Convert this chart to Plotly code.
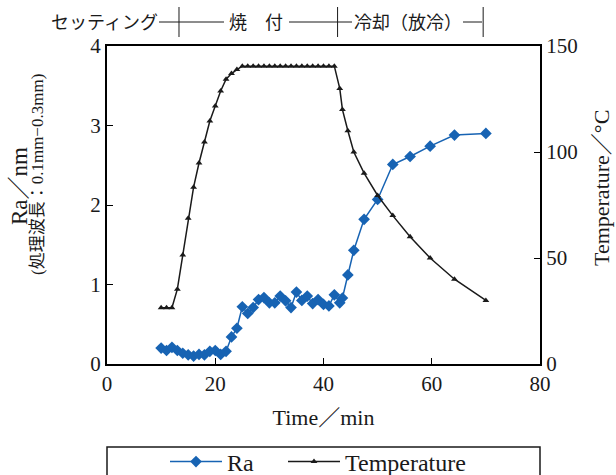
import plotly.graph_objects as go

# Sampling times (min)
time_min = [10, 11, 12, 13, 14, 15, 16, 17, 18, 19, 20, 21, 22, 23, 24, 25, 26, 27,
            28, 29, 30, 31, 32, 33, 34, 35, 36, 37, 38, 39, 40, 41, 42,
            43, 43.5, 44.5, 45.6, 47.5, 50, 52.8, 56, 59.7, 64.2, 70]

# Surface roughness Ra (nm), wavelength band 0.1mm-0.3mm
ra_nm = [0.20, 0.17, 0.21, 0.17, 0.135, 0.115, 0.10, 0.12, 0.115, 0.16, 0.17, 0.12,
         0.16, 0.34, 0.45, 0.72, 0.635, 0.71, 0.81, 0.835, 0.77, 0.77, 0.855, 0.795,
         0.71, 0.905, 0.80, 0.855, 0.76, 0.81, 0.75, 0.73, 0.87,
         0.77, 0.83, 1.12, 1.43, 1.82, 2.07, 2.51, 2.61, 2.74, 2.88, 2.90]

# Temperature (deg C)
temp_c = [26.5, 26.5, 26.5, 35.3, 51.4, 68.7, 83.4, 94.8, 104.7, 114.6, 121.7, 128.8,
          134.3, 137, 138.9, 140.5, 140.5, 140.5, 140.5, 140.5, 140.5, 140.5, 140.5,
          140.5, 140.5, 140.5, 140.5, 140.5, 140.5, 140.5, 140.5, 140.5, 140.5,
          130, 120, 110, 100, 90, 79.5, 70, 60, 50, 40, 30]

# Process phases shown above the plot, with boundary times (min)
phase_labels = ["セッティング", "焼　付", "冷却（放冷）"]
phase_edges = [13.3, 42.6, 69.5]

x_ticks = [0, 20, 40, 60, 80]
ra_ticks = [0, 1, 2, 3, 4]
temp_ticks = [0, 50, 100, 150]

SERIF = "Liberation Serif"
MIXED = "Liberation Serif, Noto Sans CJK JP"
CJK = "Noto Sans CJK JP"
BLUE = "#1763b3"
BLACK = "#1a1a1a"

W, H = 616, 475
ML, MR, MT, MB = 107, 76, 46, 111
PW, PH = W - ML - MR, H - MT - MB


def px_x(p):
    return (p - ML) / PW


def px_y(p):
    return (H - MB - p) / PH


fig = go.Figure()
fig.add_trace(go.Scatter(
    x=time_min, y=ra_nm, name="Ra", mode="lines+markers", legend="legend",
    line=dict(color=BLUE, width=1.5),
    marker=dict(symbol="diamond", size=9, color=BLUE),
))
fig.add_trace(go.Scatter(
    x=time_min, y=temp_c, name="Temperature", mode="lines+markers", yaxis="y2",
    legend="legend2",
    line=dict(color=BLACK, width=1.5),
    marker=dict(symbol="triangle-up", size=6, color=BLACK),
))

axis_common = dict(
    showgrid=False, zeroline=False, showline=True, linecolor="black", linewidth=2,
    ticks="inside", ticklen=6, tickwidth=1, tickcolor="black",
    tickfont=dict(family=SERIF, size=21, color=BLACK),
)

legend_common = dict(orientation="h", xanchor="left", y=px_y(462), yanchor="middle",
                     font=dict(family=SERIF, size=24, color=BLACK),
                     bgcolor="rgba(0,0,0,0)", borderwidth=0, itemwidth=52)

fig.update_layout(
    width=W, height=H,
    margin=dict(l=ML, r=MR, t=MT, b=MB, autoexpand=False),
    paper_bgcolor="white", plot_bgcolor="white",
    xaxis=dict(range=[0, 80], tickvals=x_ticks, mirror=True,
               title=dict(text="Time／min", font=dict(family=MIXED, size=22, color=BLACK),
                          standoff=14),
               **axis_common),
    yaxis=dict(range=[0, 4], tickvals=ra_ticks, **axis_common),
    yaxis2=dict(range=[0, 150], tickvals=temp_ticks, overlaying="y", side="right",
                **axis_common),
    showlegend=True,
    legend=dict(x=px_x(165), **legend_common),
    legend2=dict(x=px_x(283), **legend_common),
)


def label(text, cx, cy, size, family=MIXED, angle=0):
    return dict(text=text, x=px_x(cx), y=px_y(cy), xref="paper", yref="paper",
                xanchor="center", yanchor="middle", textangle=angle, showarrow=False,
                font=dict(family=family, size=size, color=BLACK))


annotations = [
    label("Ra／nm", 19, 186, 23, angle=-90),
    label("(処理波長：0.1mm−0.3mm)", 37, 175, 17, angle=-90),
    label("Temperature／°C", 601, 188, 22, angle=-90),
]

# Phase header: labels joined by rules, with boundary bars
head_px = 21
label_centers = [104, 256, 408]
for cx, lab in zip(label_centers, phase_labels):
    annotations.append(label(lab, cx, head_px, 18, family=CJK))

shapes = []
rule_segments = [(159, 224), (289, 352), (463, 482)]
for a, b in rule_segments:
    shapes.append(dict(type="line", xref="paper", yref="paper", x0=px_x(a), x1=px_x(b),
                       y0=px_y(head_px + 1), y1=px_y(head_px + 1),
                       line=dict(color=BLACK, width=1)))
for t in phase_edges:
    shapes.append(dict(type="line", xref="x", yref="paper", x0=t, x1=t,
                       y0=px_y(37), y1=px_y(7), line=dict(color=BLACK, width=1)))

# Legend frame
shapes.append(dict(type="rect", xref="paper", yref="paper", x0=0, x1=1,
                   y0=px_y(500), y1=px_y(447), line=dict(color=BLACK, width=1.5)))

fig.update_layout(annotations=annotations, shapes=shapes)
fig.write_html("out.html")
